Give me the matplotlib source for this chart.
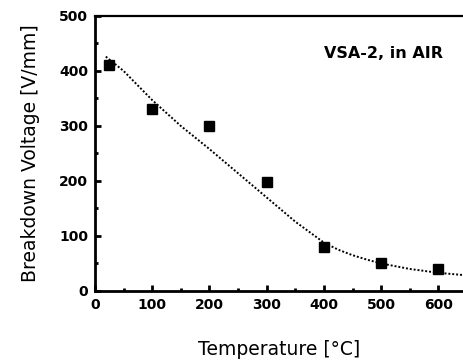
import matplotlib
matplotlib.use("Agg")
import matplotlib.pyplot as plt
from matplotlib.ticker import MultipleLocator

# measured data
temps = [25, 100, 200, 300, 400, 500, 600]
voltage = [410, 330, 300, 198, 80, 50, 40]

# fitted trend line
fit_t = [19, 50, 100, 150, 200, 250, 300, 350, 400, 425, 450, 475, 500, 550, 600, 643]
fit_v = [426, 400, 347, 300, 258, 214, 170, 126, 88, 75, 65, 57, 50, 40, 33, 29]

xticks = [0, 100, 200, 300, 400, 500, 600]
yticks = [0, 100, 200, 300, 400, 500]

plt.rcParams['font.family'] = ['DejaVu Sans']

fig = plt.figure(figsize=(4.63, 3.61), dpi=100)
ax = fig.add_axes([0.205, 0.194, 0.795, 0.762])

ax.plot(fit_t, fit_v, color='black', linestyle=(0, (1, 1)), linewidth=1.4)
ax.plot(temps, voltage, linestyle='none', marker='s', color='black', markersize=7.5)

ax.set_xlim(0, 643)
ax.set_ylim(0, 500)
ax.set_xticks(xticks)
ax.set_yticks(yticks)
ax.xaxis.set_minor_locator(MultipleLocator(50))
ax.yaxis.set_minor_locator(MultipleLocator(50))

ax.tick_params(which='major', direction='in', length=4, width=2, labelsize=10, pad=5)
ax.tick_params(which='minor', direction='in', length=2.5, width=2)
for lab in ax.get_xticklabels() + ax.get_yticklabels():
    lab.set_fontweight('bold')

ax.spines['right'].set_visible(False)
ax.spines['left'].set_linewidth(2.0)
ax.spines['bottom'].set_linewidth(2.0)
ax.spines['top'].set_linewidth(1.6)

ax.set_xlabel('Temperature [°C]', fontsize=13.5, labelpad=20)
ax.set_ylabel('Breakdown Voltage [V/mm]', fontsize=13.5, labelpad=14)

ax.text(0.946, 0.865, 'VSA-2, in AIR', transform=ax.transAxes, ha='right', va='center',
        fontsize=11.5, fontweight='bold')

fig.savefig('out.png', dpi=100)
